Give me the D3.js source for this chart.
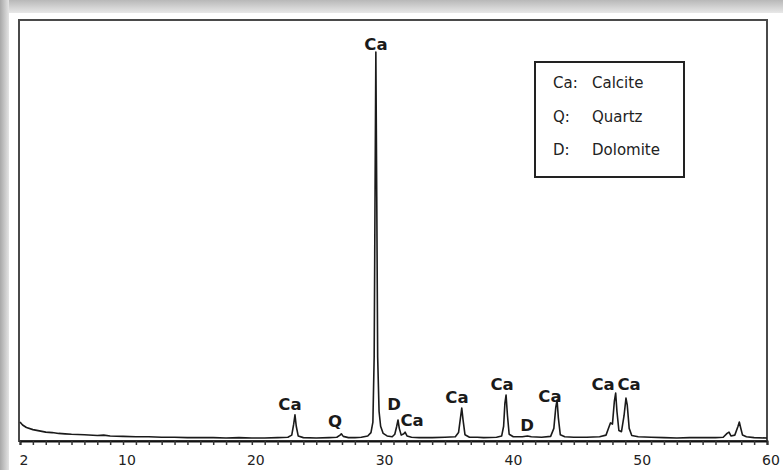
<!DOCTYPE html>
<html>
<head>
<meta charset="utf-8">
<script src="https://cdn.jsdelivr.net/npm/d3@7"></script>
<style>
html,body{margin:0;padding:0;background:#fff;}
svg{display:block;}
</style>
</head>
<body>
<svg id="chart" width="783" height="470"></svg>
<script>
// ---- data ----
const twoTheta = [2.0,2.2,2.5,3.0,3.5,4.0,4.5,5.0,5.5,6.0,7.0,8.0,8.5,9.0,10,11,12,13,14,15,16,17,18,19,20,21,22,22.8,
  23.1,23.25,23.35,23.45,23.6,24,25,26,26.6,26.85,26.95,27.1,27.5,28,28.5,29.0,29.25,29.4,29.5,29.57,29.63,29.7,29.77,29.88,30.0,30.2,30.5,
  30.9,31.1,31.25,31.35,31.45,31.6,31.8,31.9,32.05,32.4,33,34,35,35.8,36.05,36.2,36.3,36.4,36.55,36.9,37.5,38,39,39.4,39.55,39.65,39.74,39.85,39.98,
  40.3,41,41.4,41.7,42.5,43.2,43.45,43.6,43.7,43.8,43.95,44.3,45,46,47,47.5,47.75,47.85,48.0,48.15,48.25,48.35,48.5,48.7,48.9,49.05,49.15,49.3,49.5,
  50,51,52,53,54,55,56,56.6,56.9,57.05,57.2,57.5,57.75,57.85,57.95,58.1,58.4,59,60];
const intensity = [45,38,32,27,24,21,20,18,17,16,15,13,14,12,11,10,10,9,9,8,8,8,7,8,7,7,8,9,
  14,40,62,35,12,8,7,8,9,14,17,11,8,8,9,12,20,45,200,600,924,580,200,70,35,18,12,
  10,16,35,50,30,14,17,21,12,9,8,8,9,10,20,55,78,50,15,9,9,8,9,12,35,90,109,60,16,
  10,10,12,10,9,11,30,80,97,55,15,10,9,9,10,14,35,43,40,95,114,70,25,22,60,102,85,30,13,
  10,9,8,7,8,8,8,9,18,21,12,14,35,45,32,14,10,8,7];

const xTicks = [2,10,20,30,40,50,60];
const peakLabels = ["Ca","Ca","Q","D","Ca","Ca","Ca","D","Ca","Ca","Ca"];
const peakLabelTheta = [29.64,22.96,26.46,31.04,32.44,35.93,39.43,41.37,43.15,47.27,49.29];
const peakLabelLevel = [929,74,33,74,36,90,121,24,93,121,121];
const legendCodes = ["Ca:","Q:","D:"];
const legendNames = ["Calcite","Quartz","Dolomite"];

// ---- drawing ----
const svg = d3.select("#chart");
const defs = svg.append("defs");
const gTop = defs.append("linearGradient").attr("id","gTop").attr("x1",0).attr("y1",0).attr("x2",0).attr("y2",1);
gTop.append("stop").attr("offset","0%").attr("stop-color","#b8b8b8");
gTop.append("stop").attr("offset","100%").attr("stop-color","#e8e8e8");
const gLeft = defs.append("linearGradient").attr("id","gLeft").attr("x1",0).attr("y1",0).attr("x2",1).attr("y2",0);
gLeft.append("stop").attr("offset","0%").attr("stop-color","#a8a8a8");
gLeft.append("stop").attr("offset","100%").attr("stop-color","#e4e4e4");

svg.append("rect").attr("width",783).attr("height",470).attr("fill","#fff");
svg.append("rect").attr("x",0).attr("y",0).attr("width",783).attr("height",13).attr("fill","url(#gTop)");
svg.append("rect").attr("x",0).attr("y",0).attr("width",9).attr("height",470).attr("fill","url(#gLeft)");

const L = 19, R = 767, T = 20, B = 441;
const x = d3.scaleLinear().domain([2,60]).range([L+1,R]);
const y = d3.scaleLinear().domain([0,1000]).range([B,T]);

// frame
svg.append("rect").attr("x",L).attr("y",T).attr("width",R-L).attr("height",B-T)
  .attr("fill","none").attr("stroke","#4a4a4a").attr("stroke-width",2);

// x axis
const axis = d3.axisBottom(x).tickValues(d3.range(2,61,1)).tickSize(4).tickFormat("");
const ax = svg.append("g").attr("transform",`translate(0,${B})`).call(axis);
ax.select(".domain").attr("stroke","#111").attr("stroke-width",2);
ax.selectAll(".tick line").attr("stroke","#333").attr("stroke-width",1.5);

svg.append("g").selectAll("text").data(xTicks).join("text")
  .attr("x",d=>x(d)+4).attr("y",465).attr("text-anchor","middle")
  .attr("font-family","DejaVu Sans, Verdana, sans-serif").attr("font-size",14).attr("fill","#222")
  .text(d=>d);

// pattern
const pts = twoTheta.map((t,i)=>[t,intensity[i]]);
const line = d3.line().x(d=>x(d[0])).y(d=>y(d[1]));
svg.append("path").datum(pts).attr("d",line).attr("fill","none")
  .attr("stroke","#1a1a1a").attr("stroke-width",1.6).attr("stroke-linejoin","round");

// peak labels
svg.append("g").selectAll("text").data(peakLabels).join("text")
  .attr("x",(d,i)=>x(peakLabelTheta[i])).attr("y",(d,i)=>y(peakLabelLevel[i]))
  .attr("text-anchor","middle").attr("font-family","DejaVu Sans, Verdana, sans-serif")
  .attr("font-weight","bold").attr("font-size",16.5).attr("fill","#1a1a1a")
  .text(d=>d);

// legend
const lg = svg.append("g");
lg.append("rect").attr("x",535).attr("y",62).attr("width",149).attr("height",115)
  .attr("fill","#fff").attr("stroke","#222").attr("stroke-width",2);
lg.selectAll("text.code").data(legendCodes).join("text").attr("class","code")
  .attr("x",553).attr("y",(d,i)=>88+i*33.5)
  .attr("font-family","DejaVu Sans, Verdana, sans-serif").attr("font-size",15).attr("fill","#222").text(d=>d);
lg.selectAll("text.name").data(legendNames).join("text").attr("class","name")
  .attr("x",592).attr("y",(d,i)=>88+i*33.5)
  .attr("font-family","DejaVu Sans, Verdana, sans-serif").attr("font-size",15).attr("fill","#222").text(d=>d);
</script>
</body>
</html>
